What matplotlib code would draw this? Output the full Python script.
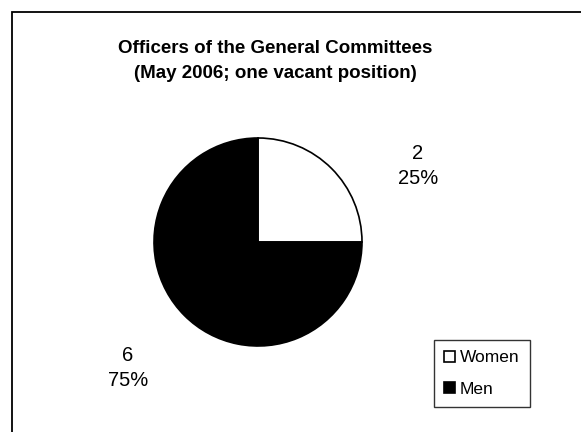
import matplotlib.pyplot as plt
from matplotlib.patches import Rectangle

plt.rcParams['font.family'] = ['Liberation Sans', 'DejaVu Sans']

# officers of the general committees, May 2006
categories = ['Women', 'Men']
counts = [2, 6]
colors = ['white', 'black']
title = 'Officers of the General Committees\n(May 2006; one vacant position)'

W, H = 581, 432
fig = plt.figure(figsize=(W / 100, H / 100), dpi=100)
ax = fig.add_axes([0, 0, 1, 1])

# pie drawn in pixel-like data coords (y up)
cx, cy, r = 258, H - 242, 104
wedges, _ = ax.pie(counts, colors=colors, startangle=90, counterclock=False,
                   center=(cx, cy), radius=r,
                   wedgeprops=dict(edgecolor='black', linewidth=1.2))

total = sum(counts)
label_pos = [(418, 166), (128, 368)]
for n, (x, y) in zip(counts, label_pos):
    ax.text(x, H - y, f'{n}\n{n / total:.0%}', ha='center', va='center',
            fontsize=14.5, linespacing=1.4)

ax.text(275, H - 61, title, ha='center', va='center', fontsize=13.5,
        fontweight='bold', linespacing=1.62)

# chart area border (only top and left edges visible in the crop)
ax.add_patch(Rectangle((12, -20), W, H - 12 + 20, fill=False,
                       edgecolor='black', linewidth=1.3, clip_on=False))

ax.set_xlim(0, W)
ax.set_ylim(0, H)
ax.set_aspect('equal')
ax.axis('off')

leg = ax.legend(wedges, categories, loc='upper left',
                bbox_to_anchor=(434 / W, 1 - 340 / H), bbox_transform=fig.transFigure,
                fontsize=12.5, frameon=True, fancybox=False, edgecolor='black',
                handlelength=0.6, handleheight=0.6, handletextpad=0.3,
                borderpad=0.6, labelspacing=0.95, borderaxespad=0)
leg.get_frame().set_linewidth(1.0)

fig.savefig('out.png', dpi=100)
